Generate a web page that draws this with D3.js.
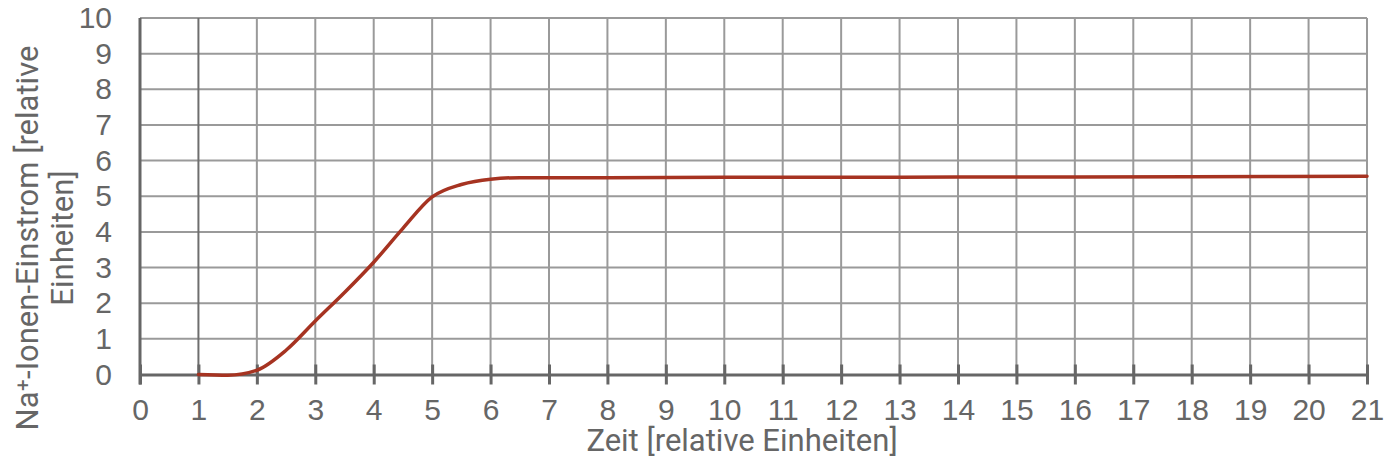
<!DOCTYPE html>
<html>
<head>
<meta charset="utf-8">
<script src="https://cdn.jsdelivr.net/npm/d3@7"></script>
<style>
  body { margin: 0; background: #fff; }
  svg { display: block; font-family: Roboto, sans-serif; }
</style>
</head>
<body>
<div id="chart"></div>
<script>
// Zeit-Werte und Na+-Einstrom
const zeit = [1, 1.5, 2, 2.5, 3, 3.5, 4, 4.5, 5, 5.5, 6, 6.5, 7, 8, 10, 12, 14, 16, 18, 21]
const einstrom = [0, -0.02, 0.12, 0.68, 1.5, 2.3, 3.15, 4.1, 4.98, 5.33, 5.48, 5.52, 5.52, 5.52, 5.53, 5.53, 5.54, 5.54, 5.55, 5.56]
const xTicks = d3.range(0, 22)
const yTicks = d3.range(0, 11)
const xTitle = 'Zeit [relative Einheiten]'
const yTitle = ['Na\u207A-Ionen-Einstrom [relative', 'Einheiten]']

const width = 1387, height = 459
const margin = {top: 18, right: 20, bottom: 85, left: 140}
const textColor = '#666'

const svg = d3.select('#chart').append('svg')
    .attr('width', width)
    .attr('height', height)

const x = d3.scaleLinear().domain([0, 21]).range([margin.left, width - margin.right])
const y = d3.scaleLinear().domain([0, 10]).range([height - margin.bottom + 0.5, margin.top])

// gridlines
svg.append('g')
    .selectAll('line.h')
    .data(yTicks.filter(d => d > 0))
    .enter().append('line')
    .attr('x1', x(0)).attr('x2', x(21))
    .attr('y1', d => y(d)).attr('y2', d => y(d))
    .attr('stroke', '#9a9a9a')
    .attr('stroke-width', 2)

svg.append('g')
    .selectAll('line.v')
    .data(xTicks.filter(d => d > 0))
    .enter().append('line')
    .attr('x1', d => x(d)).attr('x2', d => x(d))
    .attr('y1', y(10)).attr('y2', y(0))
    .attr('stroke', d => d === 1 ? '#6e6e6e' : '#9a9a9a')
    .attr('stroke-width', 2)

// x axis with crossing ticks
const xAxis = svg.append('g')
    .attr('transform', `translate(0,${y(0)})`)
    .call(d3.axisBottom(x).tickValues(xTicks).tickSize(10).tickSizeOuter(0).tickPadding(14))
xAxis.select('.domain').attr('stroke', '#666').attr('stroke-width', 3)
xAxis.selectAll('.tick line')
    .attr('y1', -10)
    .attr('stroke', '#666').attr('stroke-width', 3)
xAxis.selectAll('.tick text')
    .attr('fill', textColor)
    .style('font-size', '30px')

// y axis
const yAxis = svg.append('g')
    .attr('transform', `translate(${x(0)},0)`)
    .call(d3.axisLeft(y).tickValues(yTicks).tickSize(0).tickPadding(28))
yAxis.select('.domain').attr('stroke', '#666').attr('stroke-width', 3)
    .attr('d', `M0,${y(10)}V${y(0) + 10}`)
yAxis.selectAll('.tick text')
    .attr('fill', textColor)
    .style('font-size', '30px')

// curve
const line = d3.line()
    .x((d, i) => x(zeit[i]))
    .y(d => y(d))
    .curve(d3.curveMonotoneX)

svg.append('path')
    .datum(einstrom)
    .attr('d', line)
    .attr('fill', 'none')
    .attr('stroke', '#a63321')
    .attr('stroke-width', 3.5)
    .attr('stroke-linecap', 'round')

// axis titles
svg.append('text')
    .attr('x', 742)
    .attr('y', 451)
    .attr('text-anchor', 'middle')
    .attr('fill', textColor)
    .style('font-size', '31px')
    .text(xTitle)

const yt = svg.append('text')
    .attr('transform', 'translate(38,238) rotate(-90)')
    .attr('text-anchor', 'middle')
    .attr('fill', textColor)
    .style('font-size', '31px')
yt.selectAll('tspan')
    .data(yTitle)
    .enter().append('tspan')
    .attr('x', 0)
    .attr('dy', (d, i) => i === 0 ? 0 : 35)
    .text(d => d)
</script>
</body>
</html>
